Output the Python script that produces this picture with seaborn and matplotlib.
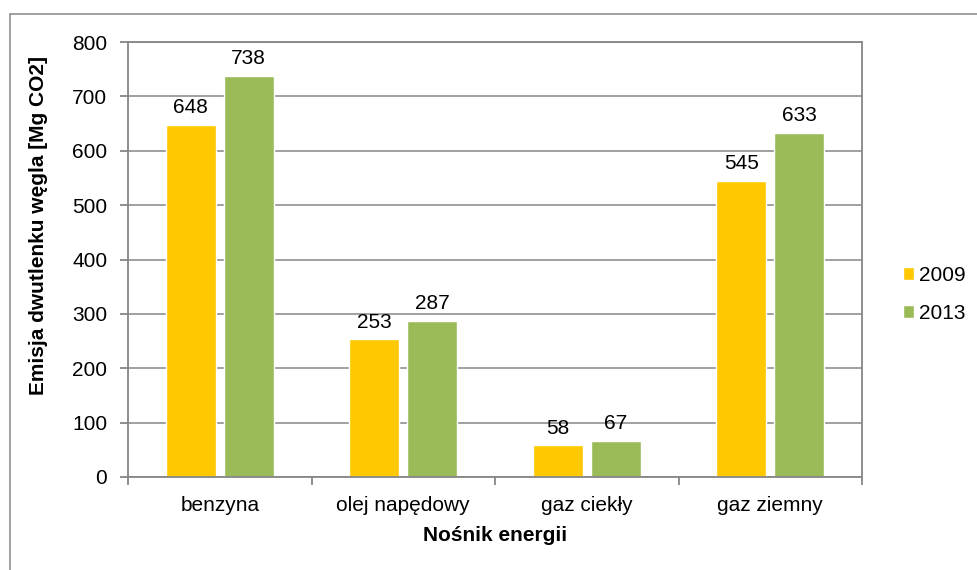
import matplotlib
matplotlib.use("Agg")
import matplotlib.pyplot as plt
import pandas as pd
import seaborn as sns
from matplotlib.lines import Line2D

# dane z wykresu
nosniki = ['benzyna', 'olej napędowy', 'gaz ciekły', 'gaz ziemny']
lata = ['2009', '2013']
emisja_2009 = [648, 253, 58, 545]
emisja_2013 = [738, 287, 67, 633]

df = pd.DataFrame({
    'nosnik': nosniki * 2,
    'rok': [lata[0]] * 4 + [lata[1]] * 4,
    'emisja': emisja_2009 + emisja_2013,
})

sns.set_style('white')
plt.rcParams['font.family'] = ['Liberation Sans', 'DejaVu Sans']
plt.rcParams['text.color'] = 'black'
plt.rcParams['axes.labelcolor'] = 'black'
plt.rcParams['xtick.color'] = 'black'
plt.rcParams['ytick.color'] = 'black'

szary = '#868686'
kolory = {'2009': '#FFC800', '2013': '#9BBB59'}
fs = 15

fig = plt.figure(figsize=(9.78, 5.70), dpi=100)
ax = fig.add_axes([128 / 978, 1 - 477 / 570, (862 - 128) / 978, (477 - 42) / 570])

sns.barplot(data=df, x='nosnik', y='emisja', hue='rok', hue_order=lata, order=nosniki,
            palette=kolory, width=0.63, gap=0.14, ax=ax, saturation=1, legend=True)

for c in ax.containers:
    ax.bar_label(c, padding=5.5, fontsize=fs)

ax.set_ylim(0, 800)
ax.set_yticks(range(0, 801, 100))
ax.set_xlim(-0.5, 3.5)
ax.yaxis.grid(True, color=szary, linewidth=1.1)
ax.set_axisbelow(True)
for s in ax.spines.values():
    s.set_color(szary)
    s.set_linewidth(1.3)

ax.tick_params(axis='y', which='major', direction='out', length=6, color=szary, width=1.3,
               labelsize=fs, left=True, pad=9)
ax.tick_params(axis='x', which='major', bottom=False, labelsize=fs, pad=10)
ax.set_xticks([-0.5, 0.5, 1.5, 2.5, 3.5], minor=True)
ax.tick_params(axis='x', which='minor', bottom=True, direction='out', length=6, color=szary, width=1.3)

ax.set_xlabel('Nośnik energii', fontsize=fs, fontweight='bold', labelpad=8)
ax.set_ylabel('Emisja dwutlenku węgla [Mg CO2]', fontsize=fs, fontweight='bold')
ax.yaxis.set_label_coords(-0.109, 0.579)

leg = ax.legend(loc='center left', bbox_to_anchor=(1.03, 0.42), frameon=False, fontsize=fs,
                handlelength=0.55, handleheight=0.55, handletextpad=0.25, labelspacing=0.9)

# ramka wykresu (tylko lewa i gorna krawedz widoczne)
fig.add_artist(Line2D([9.5 / 978, 9.5 / 978], [0, 1 - 13.5 / 570], transform=fig.transFigure,
                      color=szary, linewidth=1.1))
fig.add_artist(Line2D([9.5 / 978, 1], [1 - 13.5 / 570, 1 - 13.5 / 570], transform=fig.transFigure,
                      color=szary, linewidth=1.1))

fig.savefig('out.png', dpi=100)
